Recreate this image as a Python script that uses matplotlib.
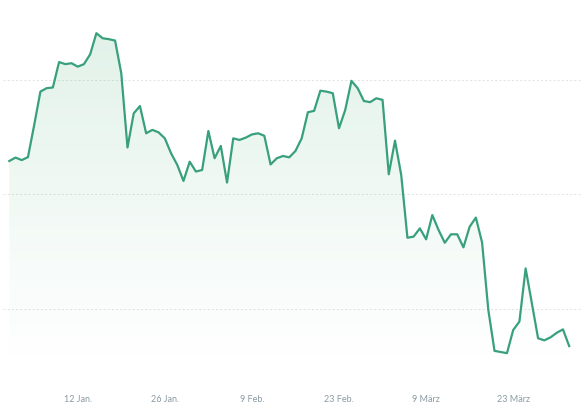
import numpy as np
import pandas as pd
import matplotlib
matplotlib.use("Agg")
import matplotlib.pyplot as plt
import matplotlib.dates as mdates
from matplotlib.patches import Polygon

# ---- data (arbitrary units) ----
start_date = "2025-01-01"
values = [
    2.646, 2.661, 2.650, 2.663, 2.803, 2.949, 2.964, 2.967, 3.078, 3.069,
    3.073, 3.058, 3.069, 3.112, 3.204, 3.182, 3.178, 3.172, 3.029, 2.705,
    2.854, 2.886, 2.767, 2.782, 2.771, 2.745, 2.680, 2.629, 2.559, 2.643,
    2.600, 2.607, 2.777, 2.658, 2.712, 2.552, 2.745, 2.738, 2.748, 2.762,
    2.767, 2.756, 2.631, 2.658, 2.668, 2.662, 2.690, 2.745, 2.859, 2.865,
    2.953, 2.949, 2.942, 2.789, 2.869, 2.996, 2.964, 2.908, 2.903, 2.920,
    2.913, 2.588, 2.735, 2.585, 2.311, 2.316, 2.352, 2.304, 2.410, 2.345,
    2.289, 2.326, 2.326, 2.269, 2.359, 2.399, 2.290, 1.996, 1.817, 1.812,
    1.807, 1.908, 1.945, 2.177, 2.025, 1.872, 1.863, 1.876, 1.896, 1.911,
    1.838,
]
grid_values = [2.0, 2.5, 3.0]
tick_dates = ["2025-01-12", "2025-01-26", "2025-02-09", "2025-02-23",
              "2025-03-09", "2025-03-23"]
tick_labels = ["12 Jan.", "26 Jan.", "9 Feb.", "23 Feb.", "9 März", "23 März"]

dates = pd.date_range(start_date, periods=len(values), freq="D")
x = mdates.date2num(dates)
y = np.array(values)

line_color = "#38a07c"

fig = plt.figure(figsize=(5.81, 4.11), dpi=100)
ax = fig.add_axes([0.0, 0.0998, 1.0, 0.9002])

ax.set_xlim(x[0] - 1.495, x[0] + 91.9)
ylo, yhi = 1.7336, 3.349
ax.set_ylim(ylo, yhi)

# gradient fill under the line
grad = np.linspace(0, 1, 256).reshape(-1, 1)
rgba = np.zeros((256, 1, 4))
rgba[..., 0] = 0x38 / 255
rgba[..., 1] = 0xa8 / 255
rgba[..., 2] = 0x6c / 255
rgba[..., 3] = 0.15 * grad ** 1.1
im = ax.imshow(rgba, aspect="auto", origin="lower",
               extent=[x[0], x[-1], ylo, y.max()], zorder=1,
               interpolation="bilinear")
verts = np.column_stack([np.r_[x[0], x, x[-1]], np.r_[ylo, y, ylo]])
poly = Polygon(verts, closed=True, facecolor="none", edgecolor="none")
ax.add_patch(poly)
im.set_clip_path(poly)

ax.plot(x, y, color=line_color, lw=1.6, zorder=3, solid_joinstyle="round")

for gv in grid_values:
    ax.axhline(gv, xmin=0.005, xmax=1.0, color="#dedede", lw=0.6,
               ls=(0, (2.5, 2.5)), zorder=0)

for s in ax.spines.values():
    s.set_visible(False)
ax.set_yticks([])
ax.set_xticks(mdates.date2num(pd.to_datetime(tick_dates)))
ax.set_xticklabels(tick_labels, fontsize=6.5, color="#8a9ba3",
                   family=["Lato", "DejaVu Sans"])
ax.tick_params(axis="x", length=0, pad=18)
ax.set_facecolor("white")

fig.savefig("out.png", dpi=100, facecolor="white")
